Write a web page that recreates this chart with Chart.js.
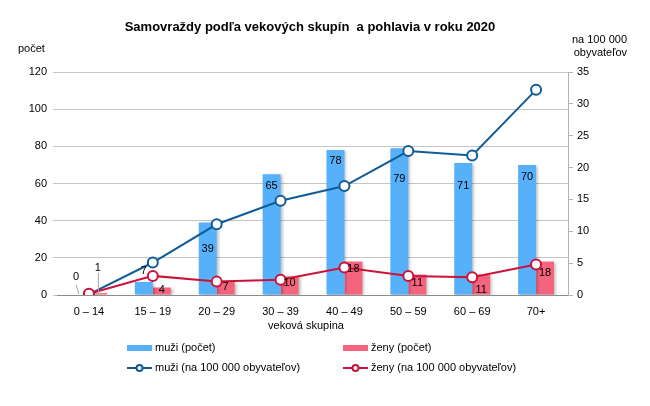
<!DOCTYPE html>
<html>
<head>
<meta charset="utf-8">
<script src="https://cdn.jsdelivr.net/npm/chart.js@4/dist/chart.umd.min.js"></script>
<style>
html,body{margin:0;padding:0;background:#fff;}
#wrap{width:650px;height:406px;position:relative;}
</style>
</head>
<body>
<div id="wrap"><canvas id="c" width="650" height="406"></canvas></div>
<script>
const categories = ['0 – 14','15 – 19','20 – 29','30 – 39','40 – 49','50 – 59','60 – 69','70+'];
const menCount = [0, 7, 39, 65, 78, 79, 71, 70];
const womenCount = [1, 4, 7, 10, 18, 11, 11, 18];
const menRate = [0.1, 5.1, 11.1, 14.8, 17.1, 22.6, 21.9, 32.2];
const womenRate = [0.2, 3.0, 2.1, 2.4, 4.3, 3.0, 2.8, 4.8];
const leftTicks = [0, 20, 40, 60, 80, 100, 120];
const rightTicks = [0, 5, 10, 15, 20, 25, 30, 35];

const titleText = 'Samovraždy podľa vekových skupín  a pohlavia v roku 2020';
const leftAxisTitle = 'počet';
const rightAxisTitle = ['na 100 000', 'obyvateľov'];
const xAxisTitle = 'veková skupina';
const legendLabels = ['muži (počet)', 'ženy (počet)', 'muži (na 100 000 obyvateľov)', 'ženy (na 100 000 obyvateľov)'];

const C_BLUE = '#57b0fa', C_PINK = '#f4647d', C_DBLUE = '#0f5c96', C_RED = '#cc1238';
const FONT = '"Liberation Sans", Arial, sans-serif';

// label vertical offsets (px from bar top, positive = down)
const menLabelDy = [null, -11, 26, 12, 11, 31, 23, 12];
const womenLabelDy = [null, 2, 5, 7, 7, 8, 15, 11];

const extras = {
  id: 'extras',
  beforeDatasetDraw(chart, args) {
    const ds = chart.data.datasets[args.index];
    if (ds.type === 'bar') {
      const ctx = chart.ctx;
      ctx.save();
      ctx.shadowColor = 'rgba(0,0,0,0.28)';
      ctx.shadowOffsetX = 2;
      ctx.shadowOffsetY = 1;
      ctx.shadowBlur = 3;
    }
  },
  afterDatasetDraw(chart, args) {
    const ds = chart.data.datasets[args.index];
    if (ds.type === 'bar') chart.ctx.restore();
  },
  afterDatasetsDraw(chart) {
    const ctx = chart.ctx;
    ctx.save();
    ctx.font = '11px ' + FONT;
    ctx.fillStyle = '#000';
    ctx.textAlign = 'center';
    ctx.textBaseline = 'middle';
    const m0 = chart.getDatasetMeta(0), m1 = chart.getDatasetMeta(1);
    const yS = chart.scales.y;
    for (let i = 0; i < categories.length; i++) {
      const bm = m0.data[i], bw = m1.data[i];
      if (menLabelDy[i] !== null) {
        ctx.fillText(String(menCount[i]), bm.x, bm.y + menLabelDy[i]);
      }
      if (womenLabelDy[i] !== null) {
        ctx.fillText(String(womenCount[i]), bw.x, bw.y + womenLabelDy[i]);
      }
    }
    // first category labels with leader lines
    const base = yS.getPixelForValue(0);
    const b0 = m0.data[0], w0 = m1.data[0];
    ctx.strokeStyle = '#a6a6a6';
    ctx.lineWidth = 1;
    ctx.beginPath();
    ctx.moveTo(b0.x - 4, base - 10); ctx.lineTo(b0.x - 1, base - 1);
    ctx.moveTo(w0.x + 0.5, base - 22); ctx.lineTo(w0.x + 0.5, base - 1);
    ctx.stroke();
    ctx.fillText(String(menCount[0]), b0.x - 4, base - 18);
    ctx.fillText(String(womenCount[0]), w0.x, base - 27);
    ctx.restore();
  },
  afterDraw(chart) {
    const ctx = chart.ctx;
    ctx.save();
    ctx.fillStyle = '#000';
    ctx.textBaseline = 'middle';
    ctx.font = 'bold 13px ' + FONT;
    ctx.textAlign = 'center';
    ctx.fillText(titleText, 310, 27);
    ctx.font = '11px ' + FONT;
    ctx.textAlign = 'left';
    ctx.fillText(leftAxisTitle, 18, 49);
    ctx.textAlign = 'right';
    ctx.fillText(rightAxisTitle[0], 627, 40);
    ctx.fillText(rightAxisTitle[1], 627, 53);
    ctx.textAlign = 'center';
    ctx.fillText(xAxisTitle, 306, 326);
    // legend
    ctx.textAlign = 'left';
    const rows = [[127, 348], [343, 348], [127, 368], [343, 368]];
    const cols = [C_BLUE, C_PINK, C_DBLUE, C_RED];
    for (let k = 0; k < 4; k++) {
      const [lx, ly] = rows[k];
      if (k < 2) {
        ctx.fillStyle = cols[k];
        ctx.fillRect(lx, ly - 3, 25, 6);
      } else {
        ctx.strokeStyle = cols[k];
        ctx.lineWidth = 2;
        ctx.beginPath(); ctx.moveTo(lx, ly); ctx.lineTo(lx + 25, ly); ctx.stroke();
        ctx.fillStyle = '#fff';
        ctx.beginPath(); ctx.arc(lx + 12.5, ly, 3, 0, Math.PI * 2); ctx.fill(); ctx.stroke();
      }
      ctx.fillStyle = '#000';
      ctx.fillText(legendLabels[k], lx + 28, ly);
    }
    ctx.restore();
  }
};

new Chart(document.getElementById('c'), {
  data: {
    labels: categories,
    datasets: [
      { type: 'bar', label: legendLabels[0], data: menCount, backgroundColor: C_BLUE, yAxisID: 'y', order: 3,
        categoryPercentage: 0.5625, barPercentage: 1 },
      { type: 'bar', label: legendLabels[1], data: womenCount, backgroundColor: C_PINK, yAxisID: 'y', order: 3,
        categoryPercentage: 0.5625, barPercentage: 1 },
      { type: 'line', label: legendLabels[2], data: menRate, borderColor: C_DBLUE, borderWidth: 2,
        pointRadius: 5, pointBackgroundColor: '#fff', pointBorderColor: C_DBLUE, pointBorderWidth: 2,
        yAxisID: 'y1', order: 2, tension: 0 },
      { type: 'line', label: legendLabels[3], data: womenRate, borderColor: C_RED, borderWidth: 2,
        pointRadius: 5, pointBackgroundColor: '#fff', pointBorderColor: C_RED, pointBorderWidth: 2,
        yAxisID: 'y1', order: 1, tension: 0 }
    ]
  },
  options: {
    responsive: false,
    animation: false,
    layout: { padding: { top: 72, left: 0, right: 0, bottom: 0 } },
    plugins: { legend: { display: false }, tooltip: { enabled: false }, title: { display: false } },
    scales: {
      x: {
        grid: { display: false, drawTicks: false },
        border: { color: '#8c8c8c', width: 1 },
        ticks: { color: '#000', font: { size: 11, family: FONT }, padding: 10, maxRotation: 0 },
        afterFit(s) { s.height = 111; }
      },
      y: {
        position: 'left', min: 0, max: 120,
        afterBuildTicks(s) { s.ticks = leftTicks.map(v => ({ value: v })); },
        grid: { color: '#c4c4c4', tickLength: 4, tickColor: '#c4c4c4' },
        border: { display: false },
        ticks: { color: '#000', font: { size: 11, family: FONT }, padding: 6 },
        afterFit(s) { s.width = 57; }
      },
      y1: {
        position: 'right', min: 0, max: 35,
        afterBuildTicks(s) { s.ticks = rightTicks.map(v => ({ value: v })); },
        grid: { drawOnChartArea: false, tickLength: 5, color: '#b4b4b4' },
        border: { color: '#b4b4b4' },
        ticks: { color: '#000', font: { size: 11, family: FONT }, padding: 4 },
        afterFit(s) { s.width = 82; }
      }
    }
  },
  plugins: [extras]
});
</script>
</body>
</html>
